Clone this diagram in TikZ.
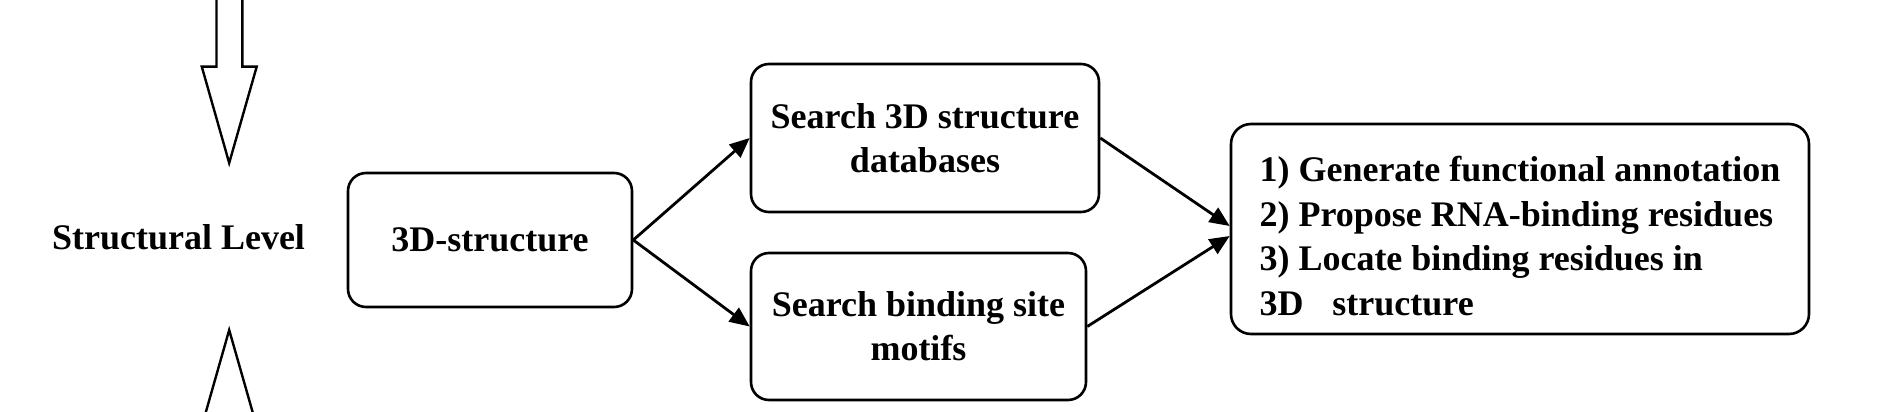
\documentclass[tikz,border=0pt]{standalone}
\usepackage{fontspec}
\setmainfont{Liberation Serif}
\usetikzlibrary{arrows.meta}
\begin{document}
\begin{tikzpicture}[x=1pt,y=-1pt,
  txt/.style={font=\bfseries\fontsize{36}{44}\selectfont},
  box/.style={txt, draw, line width=2.6pt, rounded corners=18pt, inner sep=0pt, align=center},
  conn/.style={line width=2.8pt, -{Triangle[length=20pt,width=17pt]}},
  hollow/.style={draw, line width=2.4pt, miter limit=25, fill=white}]
\path[use as bounding box] (0,0) rectangle (1891,412);
\begin{scope}
  \clip (0,0) rectangle (1891,412);
  \draw[hollow] (216.5,-20) -- (216.5,66.7) -- (201.8,66.7) -- (229.2,163) -- (256.7,66.7) -- (242.4,66.7) -- (242.4,-20) -- cycle;
  \draw[hollow] (216.5,440) -- (216.5,426.3) -- (201.8,426.3) -- (229.2,330) -- (256.7,426.3) -- (242.4,426.3) -- (242.4,440) -- cycle;
\end{scope}
\node[txt] (level) at (178.5,237) {Structural Level};
\node[box, minimum width=284pt, minimum height=134pt] (s3d) at (490,240) {3D-structure};
\node[box, minimum width=348pt, minimum height=148pt] (db) at (925,138) {Search 3D structure\\databases};
\node[box, minimum width=335pt, minimum height=147pt] (motif) at (918.5,326.5) {Search binding site\\motifs};
\node[box, rounded corners=20pt, minimum width=578pt, minimum height=210pt, align=left, font=\bfseries\fontsize{36}{44.5}\selectfont] (out) at (1520,229)
  {\rule{0pt}{39pt}1) Generate functional annotation\\2) Propose RNA-binding residues\\3) Locate binding residues in\\3D\hspace{29pt}structure};
\draw[conn] (s3d.east) -- (db.west);
\draw[conn] (s3d.east) -- (motif.west);
\draw[conn] (db.east) -- ([yshift=3pt]out.west);
\draw[conn] (motif.east) -- ([yshift=-7pt]out.west);
\end{tikzpicture}
\end{document}
